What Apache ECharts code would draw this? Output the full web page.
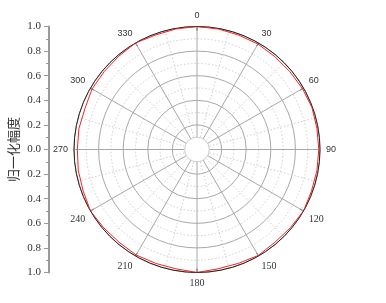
<!DOCTYPE html>
<html>
<head>
<meta charset="utf-8">
<script src="https://cdn.jsdelivr.net/npm/echarts@6/dist/echarts.min.js"></script>
<style>
html,body{margin:0;padding:0;background:#fff;}
#chart{width:386px;height:303px;}
</style>
</head>
<body>
<div id="chart"></div>
<script>
// Angles (degrees) and normalized amplitude
const angles = [0,10,20,30,40,50,60,70,80,90,100,110,120,130,140,150,160,170,180,190,200,210,220,230,240,250,260,270,280,290,300,310,320,330,340,350,360];
const amplitudes = [1.0,0.995,0.99,0.99,0.985,0.985,0.99,0.995,0.99,0.99,0.99,0.99,1.0,0.99,0.985,0.995,0.985,0.985,1.0,0.985,0.985,0.99,0.985,0.99,1.0,0.985,0.98,0.973,0.975,0.97,0.985,0.985,0.99,1.0,0.99,0.995,1.0];
const serifAngleLabels = [120,150,180,210,240];
const axisTitle = '归一化幅度';

const CX = 197, CY = 149.5, R = 123;

const chart = echarts.init(document.getElementById('chart'), null, {renderer:'canvas'});
chart.setOption({
  animation: false,
  backgroundColor: '#fff',
  polar: { center: [CX, CY], radius: [0, R] },
  angleAxis: {
    type: 'value', min: 0, max: 360, interval: 30, startAngle: 90, clockwise: true,
    axisLine: { show: true, lineStyle: { color: '#222', width: 1 } },
    axisTick: { show: true, inside: true, length: 4, lineStyle: { color: '#222' } },
    axisLabel: {
      margin: 6,
      formatter: function (v) {
        return serifAngleLabels.indexOf(v) >= 0 ? '{s|' + v + '}' : '{n|' + v + '}';
      },
      rich: {
        s: { fontFamily: 'Liberation Serif', fontSize: 10, color: '#333' },
        n: { fontFamily: 'Liberation Sans', fontSize: 9, color: '#333' }
      }
    },
    splitLine: { show: true, lineStyle: { color: '#a8a8a8', width: 1 } },
    minorTick: { show: false, splitNumber: 2 },
    minorSplitLine: { show: true, lineStyle: { color: '#cfcfcf', width: 1, type: [1.5, 2] } }
  },
  radiusAxis: {
    type: 'value', min: 0, max: 1, interval: 0.2,
    axisLine: { show: false }, axisTick: { show: false }, axisLabel: { show: false },
    splitLine: { show: true, lineStyle: { color: '#a8a8a8', width: 1 } },
    minorTick: { show: false, splitNumber: 2 },
    minorSplitLine: { show: true, lineStyle: { color: '#cfcfcf', width: 1, type: [1.5, 2] } }
  },
  grid: { left: 49, top: CY - R, width: 1, height: 2 * R },
  xAxis: { type: 'value', show: false, min: 0, max: 1 },
  yAxis: {
    type: 'value', min: -1, max: 1, interval: 0.2,
    name: axisTitle, nameLocation: 'middle', nameRotate: 90, nameGap: 29,
    nameTextStyle: { fontFamily: 'Noto Sans CJK SC', fontSize: 13, color: '#333' },
    axisLine: { show: true, lineStyle: { color: '#999', width: 2 } },
    axisTick: { show: true, length: 5, lineStyle: { color: '#999' } },
    minorTick: { show: true, splitNumber: 2, length: 3, lineStyle: { color: '#999' } },
    splitLine: { show: false },
    axisLabel: {
      margin: 8, fontFamily: 'Liberation Serif', fontSize: 11, color: '#333',
      formatter: function (v) { return Math.abs(v).toFixed(1); }
    }
  },
  graphic: [{
    type: 'circle', z: 1,
    shape: { cx: CX, cy: CY, r: 12.3 },
    style: { fill: '#fff', stroke: '#d0d0d0', lineWidth: 1 }
  }],
  series: [{
    type: 'line', coordinateSystem: 'polar', z: 5,
    symbol: 'none', smooth: false,
    lineStyle: { color: '#ff2020', width: 1 },
    data: angles.map(function (a, i) { return [amplitudes[i], a]; })
  }]
});
</script>
</body>
</html>
